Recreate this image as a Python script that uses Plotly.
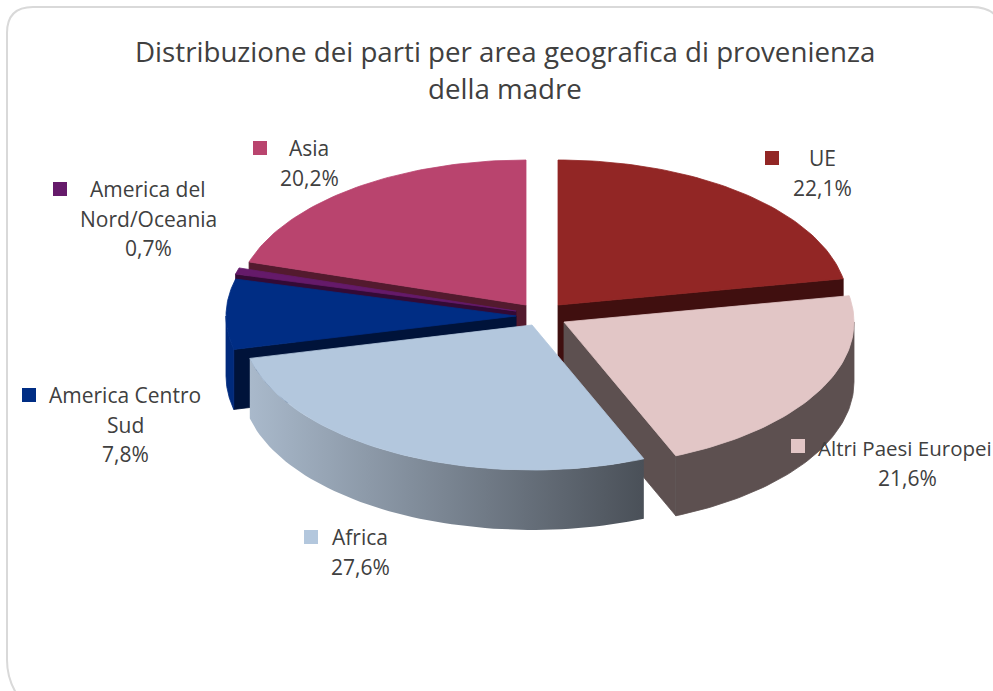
import numpy as np
import plotly.graph_objects as go

# ---- data ----
categories = ["UE", "Altri Paesi Europei", "Africa", "America Centro Sud", "America del Nord/Oceania", "Asia"]
values = [22.1, 21.6, 27.6, 7.8, 0.7, 20.2]
label_lines = [["UE"], ["Altri Paesi Europei"], ["Africa"], ["America Centro", "Sud"], ["America del", "Nord/Oceania"], ["Asia"]]
title_lines = ["Distribuzione dei parti per area geografica di provenienza", "della madre"]

# ---- style and layout ----
W, H = 993, 691
RX, RY, DEPTH = 290, 145, 60
apex = {"UE": (558, 305), "Altri Paesi Europei": (564, 322), "Africa": (532, 325),
        "America Centro Sud": (516, 316), "America del Nord/Oceania": (516, 311), "Asia": (526, 305)}
top_col = {"UE": "#922625", "Altri Paesi Europei": "#e2c6c6", "Africa": "#b3c7dd",
           "America Centro Sud": "#002d84", "America del Nord/Oceania": "#651a6a", "Asia": "#b9446e"}
wall_col = {"UE": "#400f0f", "Altri Paesi Europei": "#5d5050",
            "America Centro Sud": "#00133a", "America del Nord/Oceania": "#330a35", "Asia": "#531a2e"}
rim_col = {"Altri Paesi Europei": "#5d5050", "America Centro Sud": "#002a7c"}
africa_rim = [[0, "#a9b9cb"], [1, "#4a5058"]]
wall_edge = {"UE": 1, "Altri Paesi Europei": 1, "America Centro Sud": 0, "America del Nord/Oceania": 0, "Asia": 0}
key_pos = {"UE": (772, 158), "Altri Paesi Europei": (798, 446), "Africa": (311, 537),
           "America Centro Sud": (29, 395), "America del Nord/Oceania": (60, 189), "Asia": (260, 148)}
text_pos = {"UE": (822, 158), "Altri Paesi Europei": (907, 448), "Africa": (360, 537),
            "America Centro Sud": (125, 395), "America del Nord/Oceania": (148, 189), "Asia": (309, 148)}
draw_order = ["Asia", "America del Nord/Oceania", "America Centro Sud", "UE", "Altri Paesi Europei", "Africa"]
FONT = "Open Sans"
TXT = "#404040"
LINE_H = 29.5

# ---- geometry from the values ----
edges = np.concatenate([[0], np.cumsum(values)]) / sum(values) * 360
span = {c: (edges[i], edges[i + 1]) for i, c in enumerate(categories)}


def rim(c, t0, t1, n=60):
    t = np.radians(np.linspace(t0, t1, n))
    cx, cy = apex[c]
    return cx + RX * np.sin(t), cy - RY * np.cos(t)


def poly(x, y, color, name):
    return go.Scatter(x=list(x) + [x[0]], y=list(y) + [y[0]], mode="lines", fill="toself",
                      fillcolor=color, line=dict(width=0.8, color=color), hoverinfo="skip",
                      showlegend=False, name=name)


fig = go.Figure()
for c in draw_order:
    t0, t1 = span[c]
    cx, cy = apex[c]
    # radial wall facing the viewer
    if c in wall_edge:
        a = span[c][wall_edge[c]]
        ex, ey = rim(c, a, a, 1)
        fig.add_trace(poly([cx, ex[0], ex[0], cx], [cy, ey[0], ey[0] + DEPTH, cy + DEPTH], wall_col[c], c + " wall"))
    # outer rim
    lo, hi = max(t0, 90), min(t1, 270)
    if lo < hi:
        rx, ry = rim(c, lo, hi)
        xs = np.concatenate([rx, rx[::-1]])
        ys = np.concatenate([ry, ry[::-1] + DEPTH])
        if c == "Africa":
            fig.add_trace(go.Scatter(x=list(xs) + [xs[0]], y=list(ys) + [ys[0]], mode="lines", fill="toself",
                                     fillgradient=dict(type="horizontal", colorscale=africa_rim),
                                     line=dict(width=0), hoverinfo="skip", showlegend=False, name=c + " rim"))
        else:
            fig.add_trace(poly(xs, ys, rim_col[c], c + " rim"))
    # top face
    tx, ty = rim(c, t0, t1)
    fig.add_trace(poly([cx] + list(tx), [cy] + list(ty), top_col[c], c))

# legend keys
fig.add_trace(go.Scatter(x=[key_pos[c][0] for c in categories], y=[key_pos[c][1] for c in categories],
                         mode="markers", hoverinfo="skip", showlegend=False,
                         marker=dict(symbol="square", size=14, color=[top_col[c] for c in categories], line=dict(width=0))))

ann = []
for i, c in enumerate(categories):
    x0, y0 = text_pos[c]
    lines = label_lines[i] + [f"{values[i]:.1f}%".replace(".", ",")]
    for j, s in enumerate(lines):
        size = 20.5 if s == "Altri Paesi Europei" else 21
        xx = 905 if s == "Altri Paesi Europei" else x0
        ann.append(dict(x=xx, y=y0 + j * LINE_H, text=s, xref="x", yref="y", showarrow=False,
                        xanchor="center", yanchor="middle", font=dict(family=FONT, size=size, color=TXT)))
for j, s in enumerate(title_lines):
    ann.append(dict(x=505, y=51 + j * 37, text=s, xref="x", yref="y", showarrow=False,
                    xanchor="center", yanchor="middle", font=dict(family=FONT, size=27.7, color=TXT)))

card = "M 7,33 Q 7,7 33,7 L 972,7 Q 1003,7 1003,40 L 1003,705 L 25,705 Q 7,685 7,660 Z"
fig.update_layout(
    width=W, height=H, margin=dict(l=0, r=0, t=0, b=0), paper_bgcolor="white", plot_bgcolor="white",
    xaxis=dict(range=[0, W], visible=False, fixedrange=True),
    yaxis=dict(range=[H, 0], visible=False, fixedrange=True),
    showlegend=False, annotations=ann,
    shapes=[dict(type="path", path=card, xref="x", yref="y", line=dict(color="#d9d9d9", width=2), layer="below")],
)
fig.write_html("out.html", config={"displayModeBar": False},
               post_script="document.body.style.margin='0';document.body.style.overflow='hidden';")
